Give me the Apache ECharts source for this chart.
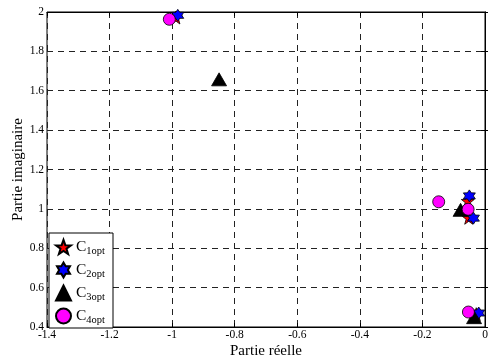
<!DOCTYPE html>
<html><head><meta charset="utf-8">
<script src="https://cdn.jsdelivr.net/npm/echarts@6/dist/echarts.min.js"></script>
<style>html,body{margin:0;padding:0;background:#fff}#c{width:488px;height:360px}</style>
</head><body><div id="c"></div>
<script>
const seriesNames = ['C1opt', 'C2opt', 'C3opt', 'C4opt'];
const c1 = [[-0.988, 1.972], [-0.055, 1.040], [-0.052, 0.955], [-0.028, 0.465]];
const c2 = [[-0.982, 1.983], [-0.050, 1.066], [-0.037, 0.953], [-0.020, 0.471]];
const c3 = [[-0.850, 1.658], [-0.078, 0.995], [-0.035, 0.450]];
const c4 = [[-1.009, 1.963], [-0.148, 1.036], [-0.054, 0.998], [-0.053, 0.476]];
const xTicks = [-1.4, -1.2, -1, -0.8, -0.6, -0.4, -0.2, 0];
const yTicks = [0.4, 0.6, 0.8, 1, 1.2, 1.4, 1.6, 1.8, 2];

function starPath(n, rOut, rIn) {
  let d = '';
  for (let i = 0; i < 2 * n; i++) {
    const r = i % 2 === 0 ? rOut : rIn;
    const a = -Math.PI / 2 + i * Math.PI / n;
    const x = 50 + r * Math.cos(a), y = 50 + r * Math.sin(a);
    d += (i === 0 ? 'M' : 'L') + x.toFixed(2) + ' ' + y.toFixed(2);
  }
  return 'path://' + d + 'Z';
}
const pentagram = starPath(5, 50, 20);
const hexagram = starPath(6, 50, 29);

const font = 'Liberation Serif';
const chart = echarts.init(document.getElementById('c'), null, {renderer: 'canvas'});
const gridLine = {show: true, lineStyle: {color: '#222', type: [6, 5], width: 1}};
const xLabelFmt = v => String(Math.round(v * 10) / 10);

chart.setOption({
  animation: false,
  backgroundColor: '#fff',
  grid: {left: 47, right: 3, top: 12, bottom: 33, containLabel: false, outerBoundsMode: 'none',
    show: true, borderColor: '#000', borderWidth: 1, backgroundColor: 'transparent'},
  xAxis: [{
    type: 'value', min: xTicks[0], max: xTicks[xTicks.length - 1], interval: 0.2,
    name: 'Partie réelle', nameLocation: 'middle', nameGap: 17, nameMoveOverlap: false,
    nameTextStyle: {fontFamily: font, fontSize: 15, color: '#000'},
    axisLine: {show: true, lineStyle: {color: '#000'}},
    axisTick: {show: true, inside: true, length: 4, lineStyle: {color: '#000'}},
    axisLabel: {fontFamily: font, fontSize: 11.5, color: '#000', margin: 2, formatter: xLabelFmt, hideOverlap: false},
    splitLine: gridLine
  }, {
    type: 'value', position: 'top', min: xTicks[0], max: 0, interval: 0.2,
    axisLine: {show: true, lineStyle: {color: '#000'}},
    axisTick: {show: true, inside: true, length: 4, lineStyle: {color: '#000'}},
    axisLabel: {show: false}, splitLine: {show: false}
  }],
  yAxis: [{
    type: 'value', min: yTicks[0], max: yTicks[yTicks.length - 1], interval: 0.2,
    name: 'Partie imaginaire', nameLocation: 'middle', nameGap: 21, nameMoveOverlap: false,
    nameTextStyle: {fontFamily: font, fontSize: 15, color: '#000'},
    axisLine: {show: true, lineStyle: {color: '#000'}},
    axisTick: {show: true, inside: true, length: 4, lineStyle: {color: '#000'}},
    axisLabel: {fontFamily: font, fontSize: 11.5, color: '#000', margin: 3, formatter: xLabelFmt, hideOverlap: false},
    splitLine: gridLine
  }, {
    type: 'value', position: 'right', min: 0.4, max: 2, interval: 0.2,
    axisLine: {show: true, lineStyle: {color: '#000'}},
    axisTick: {show: true, inside: true, length: 4, lineStyle: {color: '#000'}},
    axisLabel: {show: false}, splitLine: {show: false}
  }],
  legend: {
    orient: 'vertical', left: 49, top: 233, width: 60,
    backgroundColor: '#fff', borderColor: '#000', borderWidth: 1,
    padding: [4, 8, 2, 6], itemGap: 3, itemWidth: 15, itemHeight: 15,
    data: seriesNames,
    formatter: name => '{c|C}{s|' + name.slice(1) + '}',
    textStyle: {
      rich: {
        c: {fontFamily: font, fontSize: 15.5, color: '#000', lineHeight: 20},
        s: {fontFamily: font, fontSize: 10.5, color: '#000', padding: [9, 0, 0, 0], lineHeight: 20}
      }
    }
  },
  series: [
    {name: seriesNames[0], type: 'scatter', data: c1, symbol: pentagram, symbolSize: 13,
      itemStyle: {color: '#ff0000', borderColor: '#000', borderWidth: 0.8, opacity: 1}},
    {name: seriesNames[1], type: 'scatter', data: c2, symbol: hexagram, symbolSize: 12,
      itemStyle: {color: '#0000ff', borderColor: '#000', borderWidth: 0.8, opacity: 1}},
    {name: seriesNames[2], type: 'scatter', data: c3, symbol: 'triangle', symbolSize: [15, 13],
      itemStyle: {color: '#000', borderColor: '#000', borderWidth: 0.8, opacity: 1}},
    {name: seriesNames[3], type: 'scatter', data: c4, symbol: 'circle', symbolSize: 12,
      itemStyle: {color: '#ff00ff', borderColor: '#000', borderWidth: 0.8, opacity: 1}}
  ]
});
</script></body></html>
